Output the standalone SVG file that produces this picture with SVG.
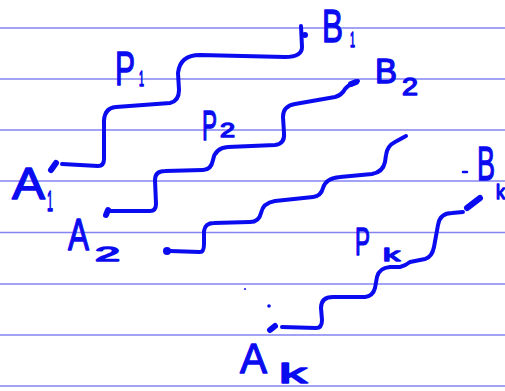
<svg xmlns="http://www.w3.org/2000/svg" width="505" height="391" viewBox="0 0 505 391">
  <style>
    .rule { stroke: #8585f2; stroke-width: 1.6; }
    .ink { fill: none; stroke: #0b0bf0; stroke-width: 4; stroke-linecap: round; stroke-linejoin: round; }
    .blob { fill: none; stroke: #0b0bf0; stroke-width: 6; stroke-linecap: round; }
    .dot { fill: #0b0bf0; }
    .lbl { font-family: "Liberation Sans", Arial, sans-serif; fill: #0b0bf0; stroke: #0b0bf0; stroke-width: 1.4; stroke-linejoin: round; }
  </style>
  <rect width="505" height="391" fill="#ffffff"/>

  <!-- ruled paper lines -->
  <g id="rules">
    <line class="rule" x1="0" y1="28" x2="505" y2="28"/>
    <line class="rule" x1="0" y1="79" x2="505" y2="79"/>
    <line class="rule" x1="0" y1="130" x2="505" y2="130"/>
    <line class="rule" x1="0" y1="181" x2="505" y2="181"/>
    <line class="rule" x1="0" y1="232.5" x2="505" y2="232.5"/>
    <line class="rule" x1="0" y1="284" x2="505" y2="284"/>
    <line class="rule" x1="0" y1="335" x2="505" y2="335"/>
    <line class="rule" x1="0" y1="386" x2="505" y2="386"/>
  </g>

  <!-- wavy paths A_i to B_i -->
  <g id="connectors">
    <path id="path-p1" class="ink" d="M62,164 L98,166 Q104,166 104,159 L104,125 Q103,108 116,107 L170,103 Q179,101 179,90 L178,73 Q180,55 200,55 L285,57 Q302,57 302,47 L301,26"/>
    <path id="path-p2" class="ink" d="M110,211 L150,211 Q156,211 156,204 L155,180 Q155,171 165,171 L203,170 Q211,170 213,160 Q215,148 228,147 L275,145 Q285,144 284,133 L283,117 Q283,106 295,104 L335,97 Q342,95 345,89 Q348,85 353,84 L358,81"/>
    <path id="path-p3" class="ink" d="M170,251 L200,252 Q204,252 204,244 L204,231 Q205,223 214,223 L250,222 Q259,222 261,213 Q263,203 275,201 L313,197 Q321,196 323,188 Q326,178 340,177 L372,174 Q383,172 385,162 L386,155 Q387,146 395,142 L406,136"/>
    <path id="path-pk" class="ink" d="M282,327 L316,328 Q322,328 322,320 L321,308 Q321,297 333,297 L365,297 Q373,296 375,288 L377,277 Q379,268 390,267 L400,267 Q405,266 410,262 L425,259 Q432,257 434,247 L438,225 Q440,213 452,213 L463,212"/>
  </g>

  <!-- endpoints -->
  <g id="endpoints">
    <path class="blob" d="M51,170 L56,163"/>
    <path class="blob" d="M106,215 L108,210"/>
    <circle class="dot" cx="167" cy="251" r="4"/>
    <path class="blob" d="M270,330 L275,326"/>
    <circle class="dot" cx="305" cy="35" r="3"/>
    <path class="blob" d="M351,84 L356,82"/>
    <path class="blob" d="M467,208 L480,198"/>
    <circle class="dot" cx="245" cy="289" r="1"/>
    <circle class="dot" cx="269" cy="306" r="1.8"/>
    <line class="ink" x1="463" y1="172" x2="467" y2="172" style="stroke-width:2.5"/>
  </g>

  <!-- labels -->
  <g id="label-a1">
    <text class="lbl" x="12" y="199" font-size="45" textLength="33" lengthAdjust="spacingAndGlyphs">A</text>
    <text class="lbl" x="47" y="211" font-size="30" textLength="6" lengthAdjust="spacingAndGlyphs">1</text>
  </g>
  <g id="label-a2">
    <text class="lbl" x="68" y="250" font-size="45" textLength="21" lengthAdjust="spacingAndGlyphs">A</text>
    <text class="lbl" x="95" y="261" font-size="20" textLength="25" lengthAdjust="spacingAndGlyphs">2</text>
  </g>
  <g id="label-ak">
    <text class="lbl" x="240" y="373" font-size="43" textLength="27" lengthAdjust="spacingAndGlyphs">A</text>
    <text class="lbl" x="279" y="383" font-size="27" textLength="28" lengthAdjust="spacingAndGlyphs">k</text>
  </g>
  <g id="label-b1">
    <text class="lbl" x="322" y="42" font-size="47" textLength="21" lengthAdjust="spacingAndGlyphs">B</text>
    <text class="lbl" x="350" y="47" font-size="22" textLength="5" lengthAdjust="spacingAndGlyphs">1</text>
  </g>
  <g id="label-b2">
    <text class="lbl" x="375" y="83" font-size="35" textLength="22" lengthAdjust="spacingAndGlyphs">B</text>
    <text class="lbl" x="402" y="95" font-size="24" textLength="16" lengthAdjust="spacingAndGlyphs">2</text>
  </g>
  <g id="label-bk">
    <text class="lbl" x="477" y="180" font-size="48" textLength="18" lengthAdjust="spacingAndGlyphs">B</text>
    <text class="lbl" x="496" y="199" font-size="20" textLength="9" lengthAdjust="spacingAndGlyphs">k</text>
  </g>
  <g id="label-p1">
    <text class="lbl" x="115" y="85" font-size="48" textLength="20" lengthAdjust="spacingAndGlyphs">P</text>
    <text class="lbl" x="139" y="86" font-size="22" textLength="5" lengthAdjust="spacingAndGlyphs">1</text>
  </g>
  <g id="label-p2">
    <text class="lbl" x="202" y="140" font-size="42" textLength="15" lengthAdjust="spacingAndGlyphs">P</text>
    <text class="lbl" x="220" y="137" font-size="20" textLength="15" lengthAdjust="spacingAndGlyphs">2</text>
  </g>
  <g id="label-pk">
    <text class="lbl" x="355" y="255" font-size="39" textLength="15" lengthAdjust="spacingAndGlyphs">P</text>
    <text class="lbl" x="383" y="261" font-size="19" textLength="17" lengthAdjust="spacingAndGlyphs">k</text>
  </g>
</svg>
